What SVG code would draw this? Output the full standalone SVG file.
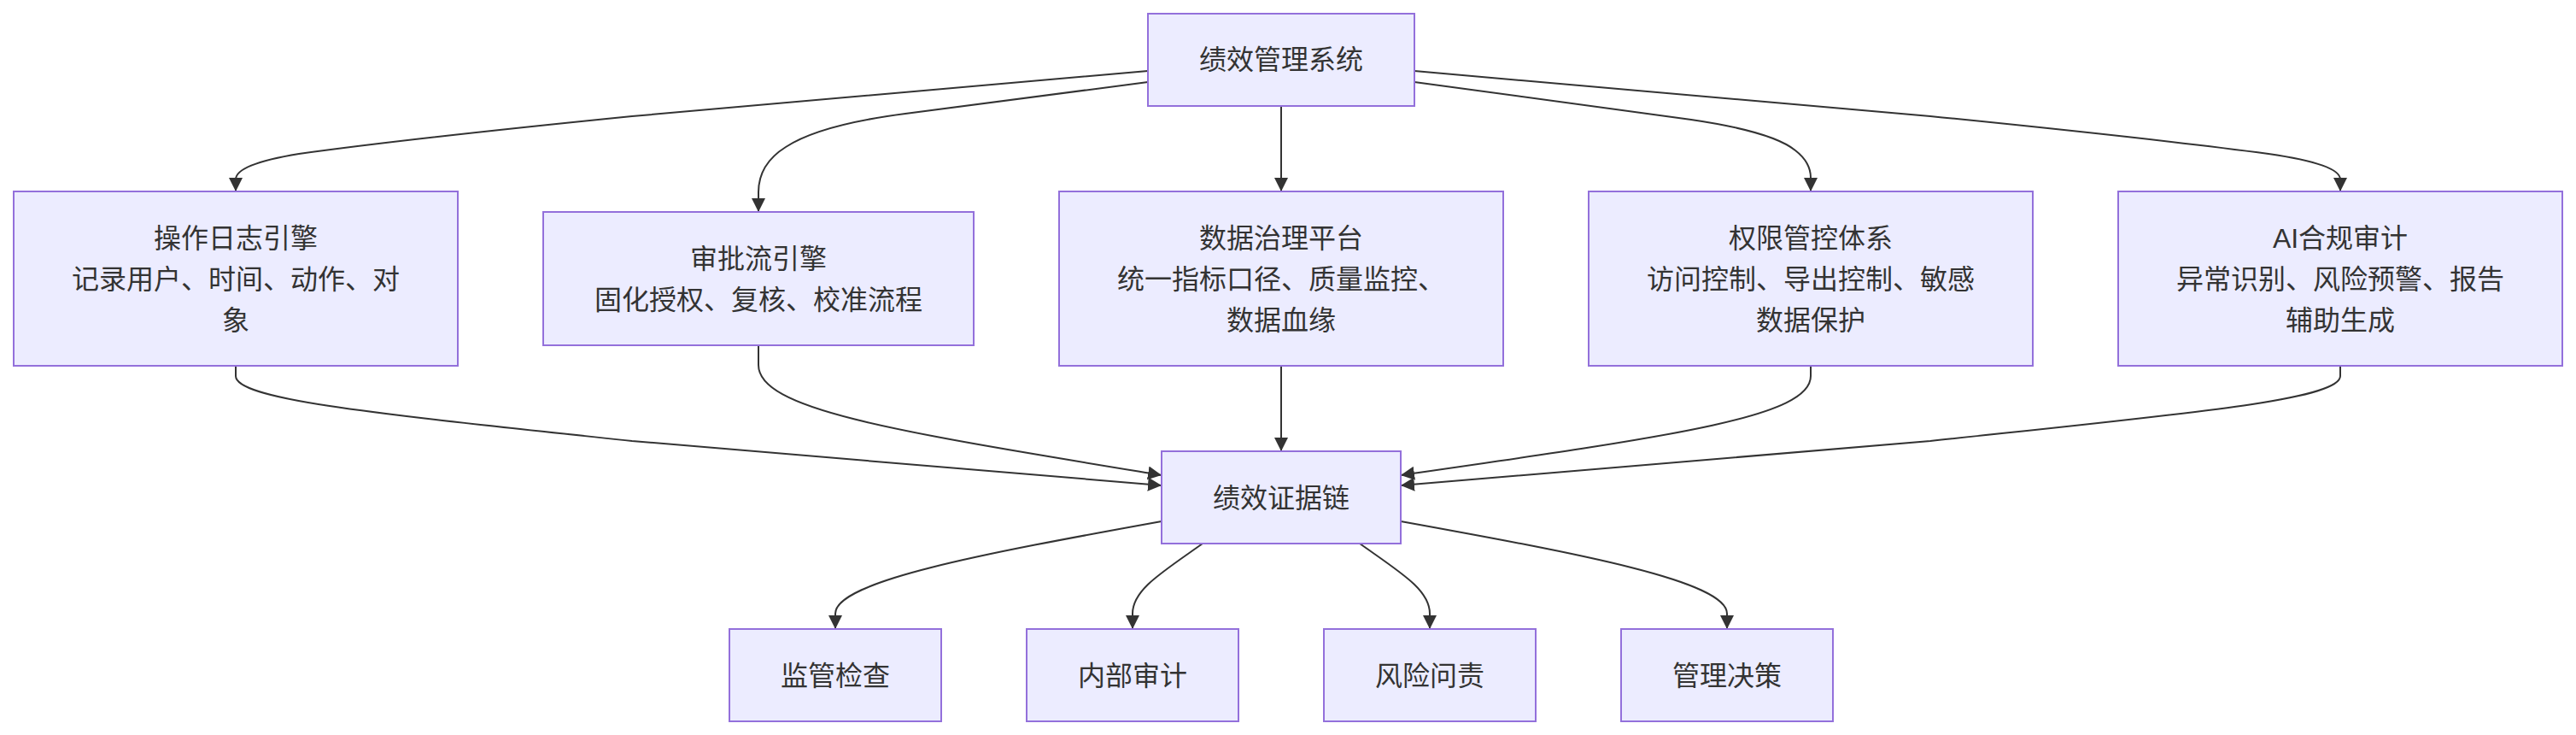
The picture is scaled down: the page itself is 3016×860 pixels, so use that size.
<svg xmlns="http://www.w3.org/2000/svg" width="3016" height="860" viewBox="0 0 3016 860">
<style>
.node rect{fill:#ECECFF;stroke:#9370DB;stroke-width:2}
.label{font-family:"Liberation Sans","Noto Sans CJK SC",sans-serif;font-size:32px;fill:#333333;text-anchor:middle}
.edge{fill:none;stroke:#333333;stroke-width:2}
</style>
<defs>
<marker id="arrow" viewBox="0 0 10 10" refX="10" refY="5" markerUnits="userSpaceOnUse" markerWidth="16" markerHeight="16" orient="auto">
<path d="M0,0 L10,5 L0,10 z" fill="#333333"/>
</marker>
</defs>
<rect x="0" y="0" width="3016" height="860" fill="#ffffff"/>
<g id="connectors">
<path class="edge" marker-end="url(#arrow)" d="M1344,83 L740,136 Q480,162 350,180 Q276,192 276,210 L276,224"/>
<path class="edge" marker-end="url(#arrow)" d="M1344,96 L1060,133 Q960,146 920,172 Q888,192 888,225 L888,248"/>
<path class="edge" marker-end="url(#arrow)" d="M1500,124 L1500,224"/>
<path class="edge" marker-end="url(#arrow)" d="M1656,96 L1980,140 Q2075,154 2102,176 Q2120,190 2120,208 L2120,224"/>
<path class="edge" marker-end="url(#arrow)" d="M1656,83 L2260,136 Q2520,162 2656,180 Q2740,192 2740,210 L2740,224"/>
<path class="edge" marker-end="url(#arrow)" d="M276,428 L276,440 C276,468 440,484 740,516 L1360,568"/>
<path class="edge" marker-end="url(#arrow)" d="M888,404 L888,427 C888,480 1050,505 1360,556"/>
<path class="edge" marker-end="url(#arrow)" d="M1500,428 L1500,528"/>
<path class="edge" marker-end="url(#arrow)" d="M2120,428 L2120,440 C2120,488 1960,510 1640,556"/>
<path class="edge" marker-end="url(#arrow)" d="M2740,428 L2740,440 C2740,468 2560,484 2260,516 L1640,568"/>
<path class="edge" marker-end="url(#arrow)" d="M1360,610 C1150,648 978,680 978,718 L978,736"/>
<path class="edge" marker-end="url(#arrow)" d="M1408,636 C1360,670 1326,690 1326,718 L1326,736"/>
<path class="edge" marker-end="url(#arrow)" d="M1592,636 C1640,670 1674,690 1674,718 L1674,736"/>
<path class="edge" marker-end="url(#arrow)" d="M1640,610 C1850,648 2022,680 2022,718 L2022,736"/>
</g>
<g id="sys" class="node"><rect x="1344" y="16" width="312" height="108"/><text class="label" x="1500" y="81">绩效管理系统</text></g>
<g id="oplog" class="node"><rect x="16" y="224" width="520" height="204"/><text class="label"><tspan x="276" y="290">操作日志引擎</tspan><tspan x="276" y="338">记录用户、时间、动作、对</tspan><tspan x="276" y="386">象</tspan></text></g>
<g id="approval" class="node"><rect x="636" y="248" width="504" height="156"/><text class="label"><tspan x="888" y="314">审批流引擎</tspan><tspan x="888" y="362">固化授权、复核、校准流程</tspan></text></g>
<g id="datagov" class="node"><rect x="1240" y="224" width="520" height="204"/><text class="label"><tspan x="1500" y="290">数据治理平台</tspan><tspan x="1500" y="338">统一指标口径、质量监控、</tspan><tspan x="1500" y="386">数据血缘</tspan></text></g>
<g id="perm" class="node"><rect x="1860" y="224" width="520" height="204"/><text class="label"><tspan x="2120" y="290">权限管控体系</tspan><tspan x="2120" y="338">访问控制、导出控制、敏感</tspan><tspan x="2120" y="386">数据保护</tspan></text></g>
<g id="ai" class="node"><rect x="2480" y="224" width="520" height="204"/><text class="label"><tspan x="2740" y="290">AI合规审计</tspan><tspan x="2740" y="338">异常识别、风险预警、报告</tspan><tspan x="2740" y="386">辅助生成</tspan></text></g>
<g id="chain" class="node"><rect x="1360" y="528" width="280" height="108"/><text class="label" x="1500" y="594">绩效证据链</text></g>
<g id="reg" class="node"><rect x="854" y="736" width="248" height="108"/><text class="label" x="978" y="802">监管检查</text></g>
<g id="audit" class="node"><rect x="1202" y="736" width="248" height="108"/><text class="label" x="1326" y="802">内部审计</text></g>
<g id="risk" class="node"><rect x="1550" y="736" width="248" height="108"/><text class="label" x="1674" y="802">风险问责</text></g>
<g id="decision" class="node"><rect x="1898" y="736" width="248" height="108"/><text class="label" x="2022" y="802">管理决策</text></g>
</svg>
